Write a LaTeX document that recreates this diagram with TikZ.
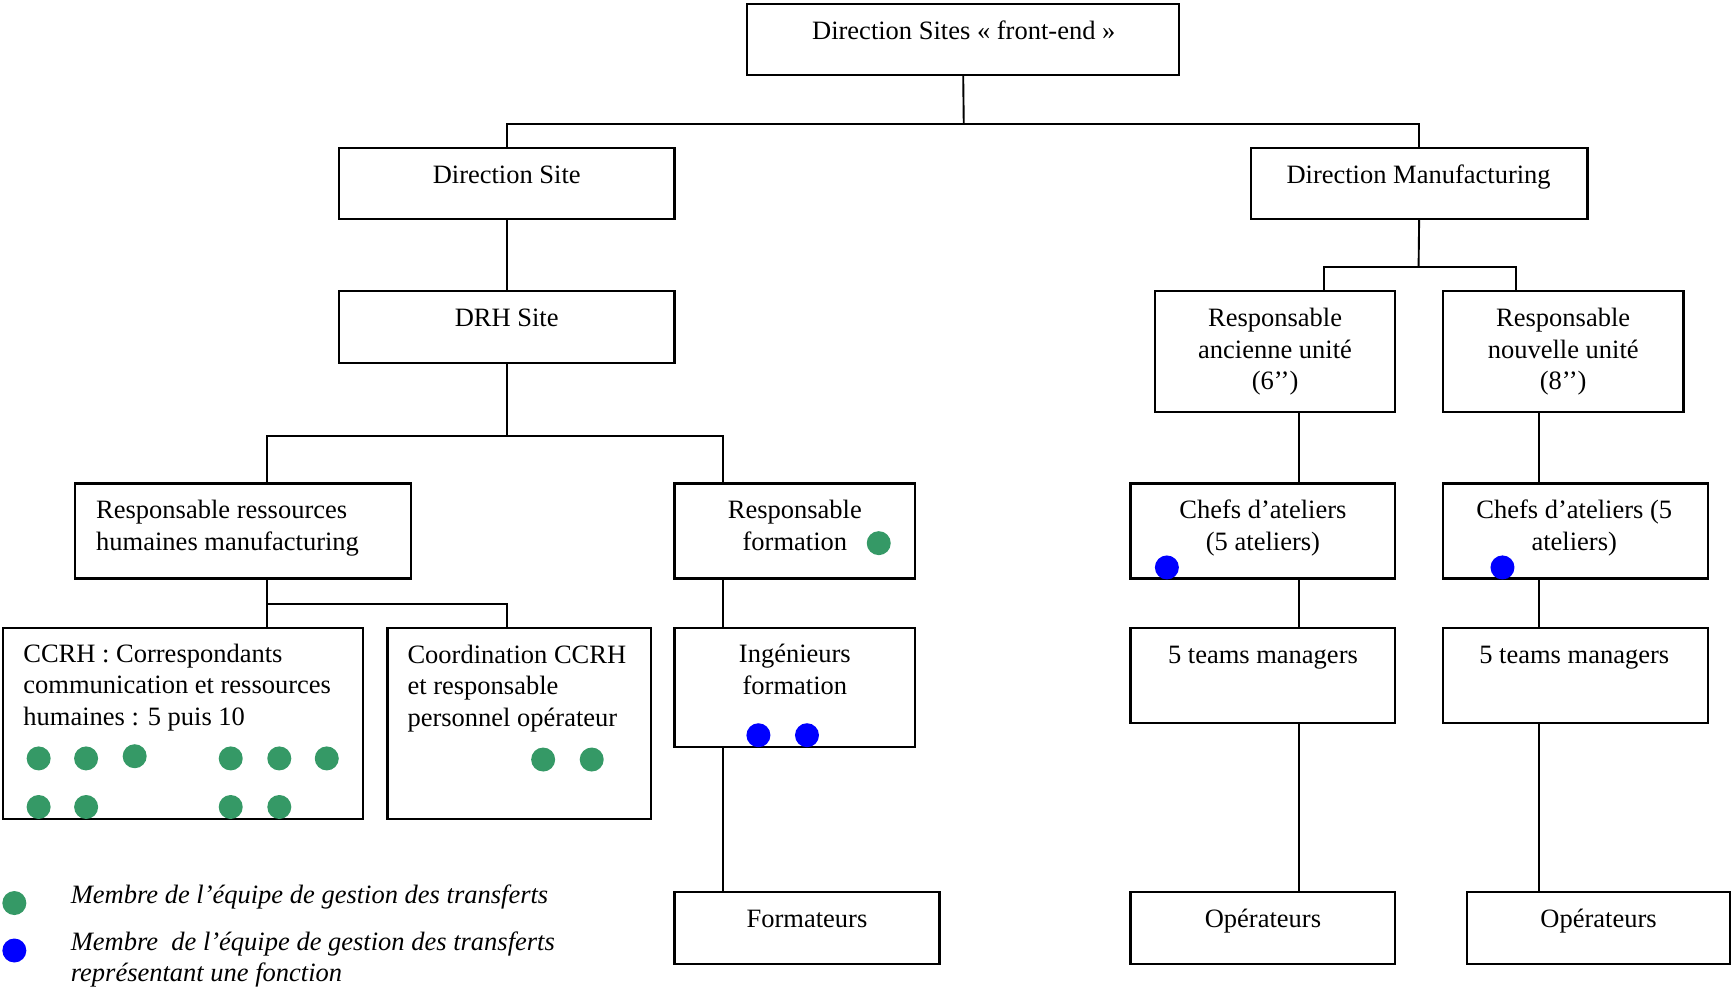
\documentclass[tikz,border=0pt]{standalone}
\usepackage{fontspec}
\setmainfont{Liberation Serif}
\usetikzlibrary{fit}
\definecolor{dotgreen}{RGB}{53,153,102}
\definecolor{dotblue}{RGB}{0,0,255}
\begin{document}
\begin{tikzpicture}[x=1.10395pt,y=-1.10395pt,
  box/.style={draw, line width=2.1pt, inner sep=0pt},
  txt/.style={font=\fontsize{26.5pt}{31.5pt}\selectfont, inner sep=0pt},
  leg/.style={font=\fontsize{26.5pt}{31.5pt}\selectfont\itshape, inner sep=0pt},
  link/.style={line width=1.9pt},
  gdot/.style={fill=dotgreen},
  bdot/.style={fill=dotblue}]
\useasboundingbox (0,0) rectangle (1568,895);
% boxes
\node[box, fit={(677,4) (1068,68)}] (top) {};
\node[box, fit={(307,134) (611,198)}] (ds) {};
\node[box, fit={(1133,134) (1438,198)}] (dm) {};
\node[box, fit={(307,264) (611,329)}] (drh) {};
\node[box, fit={(68,438) (372,524)}] (rrh) {};
\node[box, fit={(611,438) (829,524)}] (rf) {};
\node[box, fit={(3,569) (329,742)}] (ccrh) {};
\node[box, fit={(351,569) (590,742)}] (coord) {};
\node[box, fit={(611,569) (829,677)}] (ing) {};
\node[box, fit={(611,808) (851,873)}] (form) {};
\node[box, fit={(1046,264) (1264,373)}] (ra) {};
\node[box, fit={(1307,264) (1525,373)}] (rn) {};
\node[box, fit={(1024,438) (1264,524)}] (ca) {};
\node[box, fit={(1307,438) (1547,524)}] (cn) {};
\node[box, fit={(1024,569) (1264,655)}] (ta) {};
\node[box, fit={(1307,569) (1547,655)}] (tn) {};
\node[box, fit={(1024,808) (1264,873)}] (oa) {};
\node[box, fit={(1329,808) (1567,873)}] (on) {};
% texts (anchor base = baseline of last line)
\node[txt, anchor=base] at (873,36) {Direction Sites « front-end »};
\node[txt, anchor=base] at (459,166) {Direction Site};
\node[txt, anchor=base] at (1285,166) {Direction Manufacturing};
\node[txt, anchor=base] at (459,296) {DRH Site};
\node[txt, anchor=base west, align=left] at (87,498.5) {Responsable ressources\\humaines manufacturing};
\node[txt, anchor=base, align=center] at (720,498.5) {Responsable\\formation};
\node[txt, anchor=base west, align=left] at (21,657) {CCRH : Correspondants\\communication et ressources\\humaines : 5 puis 10};
\node[txt, anchor=base west, align=left] at (369,658) {Coordination CCRH\\et responsable\\personnel opérateur};
\node[txt, anchor=base, align=center] at (720,629) {Ingénieurs\\formation};
\node[txt, anchor=base] at (731,840) {Formateurs};
\node[txt, anchor=base, align=center] at (1155,353) {Responsable\\ancienne unité\\(6’’)};
\node[txt, anchor=base, align=center] at (1416,353) {Responsable\\nouvelle unité\\(8’’)};
\node[txt, anchor=base, align=center] at (1144,498.5) {Chefs d’ateliers\\(5 ateliers)};
\node[txt, anchor=base, align=center] at (1426,498.5) {Chefs d’ateliers (5\\ateliers)};
\node[txt, anchor=base] at (1144,601) {5 teams managers};
\node[txt, anchor=base] at (1426,601) {5 teams managers};
\node[txt, anchor=base] at (1144,840) {Opérateurs};
\node[txt, anchor=base] at (1448,840) {Opérateurs};
% connectors
\coordinate (j1) at (873,112);
\draw[link] (top.south) -- (j1);
\draw[link] (j1) -| (ds.north);
\draw[link] (j1) -| (dm.north);
\draw[link] (ds.south) -- (drh.north);
\coordinate (j2) at (459,395);
\draw[link] (drh.south) -- (j2);
\draw[link] (j2) -| (rrh.north -| 242,0);
\draw[link] (j2) -| (rf.north -| 655,0);
\coordinate (j3) at (242,547);
\draw[link] (rrh.south -| j3) -- (j3) -- (ccrh.north -| j3);
\draw[link] (j3) -| (coord.north -| 459,0);
\draw[link] (rf.south -| 655,0) -- (ing.north -| 655,0);
\draw[link] (ing.south -| 655,0) -- (form.north -| 655,0);
\coordinate (j4) at (1285,242);
\draw[link] (dm.south) -- (j4);
\draw[link] (j4) -| (ra.north -| 1199,0);
\draw[link] (j4) -| (rn.north -| 1373,0);
\draw[link] (ra.south -| 1177,0) -- (ca.north -| 1177,0);
\draw[link] (ca.south -| 1177,0) -- (ta.north -| 1177,0);
\draw[link] (ta.south -| 1177,0) -- (oa.north -| 1177,0);
\draw[link] (rn.south -| 1394,0) -- (cn.north -| 1394,0);
\draw[link] (cn.south -| 1394,0) -- (tn.north -| 1394,0);
\draw[link] (tn.south -| 1394,0) -- (on.north -| 1394,0);
% dots
\foreach \x/\y in {35/687,78/687,122/685,209/687,253/687,296/687,35/731,78/731,209/731,253/731,492/688,536/688,796/492}
  \fill[gdot] (\x,\y) circle (12pt);
\foreach \x/\y in {687/666,731/666,1057/514,1361/514}
  \fill[bdot] (\x,\y) circle (12pt);
% legend
\fill[gdot] (13,818) circle (12pt);
\fill[bdot] (13,861) circle (12pt);
\node[leg, anchor=base west] at (64,818) {Membre de l’équipe de gestion des transferts};
\node[leg, anchor=base west, align=left] at (64,889.5) {Membre\ \ de l’équipe de gestion des transferts\\représentant une fonction};
\end{tikzpicture}
\end{document}
